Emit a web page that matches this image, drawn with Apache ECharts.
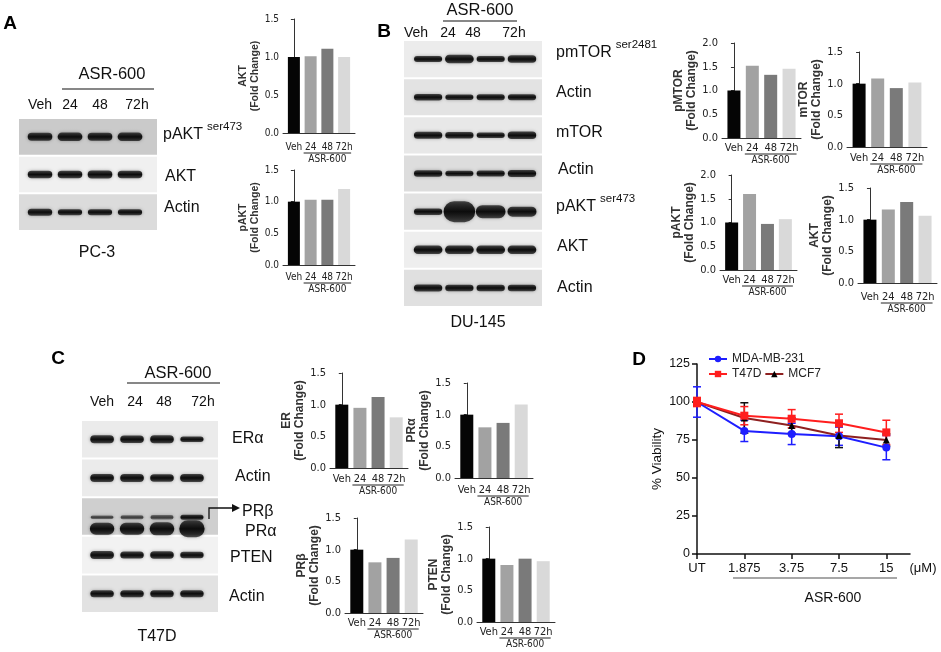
<!DOCTYPE html>
<html>
<head>
<meta charset="utf-8">
<title>ASR-600</title>
<script src="https://cdn.jsdelivr.net/npm/echarts@6.0.0/dist/echarts.min.js"></script>
<style>
  html, body { margin: 0; padding: 0; background: #fff; }
  #main { width: 941px; height: 652px; }
</style>
</head>
<body>
<div id="main"></div>
<script>
'use strict';

// ---------------- data ----------------
var lanes = ['Veh', '24', '48', '72h'];
var foldTicks = [0, 0.5, 1.0, 1.5, 2.0];

// densitometry, fold change vs vehicle
var foldAktA   = [1.0, 1.01, 1.11, 1.0];
var foldPaktA  = [1.0, 1.03, 1.03, 1.2];
var foldPmtorB = [1.0, 1.52, 1.33, 1.46];
var foldMtorB  = [1.0, 1.08, 0.93, 1.02];
var foldPaktB  = [1.0, 1.60, 0.97, 1.07];
var foldAktB   = [1.0, 1.16, 1.28, 1.06];
var foldErC    = [1.0, 0.95, 1.12, 0.80];
var foldPraC   = [1.0, 0.80, 0.87, 1.16];
var foldPrbC   = [1.0, 0.80, 0.87, 1.16];
var foldPtenC  = [1.0, 0.90, 1.00, 0.96];

// viability (%), mean and error
var doses = ['UT', '1.875', '3.75', '7.5', '15'];
var viabTicks = [0, 25, 50, 75, 100, 125];
var mdaMean = [100, 81, 79, 77.5, 70];
var mdaErr  = [10, 7, 7, 6, 8];
var t47Mean = [100, 91, 89, 86, 80];
var t47Err  = [3, 6, 6, 6, 8];
var mcfMean = [100, 89.5, 84.5, 78, 75];
var mcfErr  = [2, 10, 5, 8, 4];

// western blot band strength per lane (relative)
var blotPaktA  = [0.80, 0.85, 0.80, 0.85];
var blotAktA   = [0.75, 0.75, 0.80, 0.75];
var blotActA   = [0.70, 0.60, 0.60, 0.60];
var blotPmtorB = [0.60, 0.85, 0.60, 0.75];
var blotAct1B  = [0.65, 0.55, 0.60, 0.60];
var blotMtorB  = [0.70, 0.65, 0.55, 0.75];
var blotAct2B  = [0.65, 0.55, 0.60, 0.70];
var blotPaktB  = [0.65, 2.10, 1.30, 1.00];
var blotAktB   = [0.85, 0.85, 0.85, 0.85];
var blotAct3B  = [0.70, 0.65, 0.65, 0.65];
var blotErC    = [0.80, 0.75, 0.80, 0.55];
var blotActC   = [0.80, 0.80, 0.75, 0.80];
var blotPrbC   = [0.35, 0.40, 0.45, 0.50];
var blotPraC   = [1.20, 1.20, 1.30, 1.70];
var blotPtenC  = [0.80, 0.70, 0.75, 0.65];
var blotAct2C  = [0.70, 0.70, 0.70, 0.70];

// ---------------- fonts ----------------
var SANS = "'Liberation Sans', Arial, sans-serif";

// use a condensed face for the small GraphPad-style plots if one is installed
function pickNarrow() {
  var c = document.createElement('canvas').getContext('2d');
  var probe = 'Veh 24 48 72h ASR-600 0.5 1.0';
  var cands = ['Liberation Sans Narrow', 'Arial Narrow', 'DejaVu Sans Condensed', 'Roboto Condensed', 'Open Sans Condensed'];
  c.font = '40px monospace';
  var base = c.measureText(probe).width;
  for (var i = 0; i < cands.length; i++) {
    c.font = "40px '" + cands[i] + "', monospace";
    if (Math.abs(c.measureText(probe).width - base) > 0.5) return "'" + cands[i] + "', " + SANS;
  }
  return null;
}
var NARROW_FOUND = pickNarrow();
var NARROW = NARROW_FOUND || SANS;
var narrowScale = NARROW_FOUND ? 1 : 0.92;

// ---------------- layout / style ----------------
var barColors = ['#050505', '#a2a2a2', '#7a7a7a', '#d9d9d9'];

var barCharts = [
  {vals: foldAktA,   name: 'AKT',  max: 1.5, left: 283, top: 19,  height: 114, width: 72, barW: 12, gap: 21, nameSize: 10.5, tick: 10, labOff: 14},
  {vals: foldPaktA,  name: 'pAKT', max: 1.5, left: 283, top: 170, height: 95,  width: 72, barW: 12, gap: 21, nameSize: 10.5, tick: 10, labOff: 12},
  {vals: foldPmtorB, name: 'pMTOR', max: 2.0, left: 722, top: 43, height: 95,  width: 79, barW: 13, gap: 18, nameSize: 12, tick: 11, labOff: 10},
  {vals: foldMtorB,  name: 'mTOR', max: 1.5, left: 847, top: 52,  height: 95,  width: 80, barW: 13, gap: 16, nameSize: 12, tick: 11, labOff: 11},
  {vals: foldPaktB,  name: 'pAKT', max: 2.0, left: 720, top: 175, height: 95,  width: 77, barW: 13, gap: 18, nameSize: 12, tick: 11, labOff: 10},
  {vals: foldAktB,   name: 'AKT',  max: 1.5, left: 858, top: 188, height: 95,  width: 79, barW: 13, gap: 18, nameSize: 12, tick: 11, labOff: 14},
  {vals: foldErC,    name: 'ER',   max: 1.5, left: 330, top: 373, height: 95,  width: 78, barW: 13, gap: 21, nameSize: 12, tick: 11, labOff: 11},
  {vals: foldPraC,   name: 'PRα',  max: 1.5, left: 455, top: 383, height: 95,  width: 78, barW: 13, gap: 21, nameSize: 12, tick: 11, labOff: 12},
  {vals: foldPrbC,   name: 'PRβ',  max: 1.5, left: 345, top: 518, height: 95,  width: 78, barW: 13, gap: 21, nameSize: 12, tick: 11, labOff: 10},
  {vals: foldPtenC,  name: 'PTEN', max: 1.5, left: 477, top: 527, height: 95,  width: 78, barW: 13, gap: 21, nameSize: 12, tick: 11, labOff: 10}
];

var blots = [
  {left: 19, top: 118, width: 138, height: 113, xMin: -0.7, xMax: 3.9, bandW: 25,
   rows: [blotPaktA, blotAktA, blotActA], shades: ['#cacaca', '#f0f0f0', '#dbdbdb']},
  {left: 404, top: 40, width: 138, height: 267, xMin: -0.77, xMax: 3.64, bandW: 29,
   rows: [blotPmtorB, blotAct1B, blotMtorB, blotAct2B, blotPaktB, blotAktB, blotAct3B],
   shades: ['#ececec', '#e3e3e3', '#e8e8e8', '#dddddd', '#e2e2e2', '#eeeeee', '#e0e0e0']},
  {left: 82, top: 420, width: 136, height: 193, xMin: -0.67, xMax: 3.87, bandW: 24,
   rows: [blotErC, blotActC, [blotPrbC, blotPraC], blotPtenC, blotAct2C],
   shift: [[], [], [0.02, 0.32], [], []],
   shades: ['#ebebeb', '#ebebeb', '#cfcfcf', '#f2f2f2', '#e2e2e2']}
];

// ---------------- build option ----------------
var grids = [], xAxes = [], yAxes = [], series = [];

barCharts.forEach(function (c, k) {
  var fs = Math.round(c.tick * narrowScale * 10) / 10;
  grids.push({left: c.left, top: c.top, width: c.width, height: c.height, outerBoundsMode: 'none'});
  xAxes.push({
    gridIndex: k, type: 'value', min: -0.65, max: 3.65,
    axisLine: {show: true, onZero: false, lineStyle: {color: '#333', width: 1}},
    axisTick: {show: false}, splitLine: {show: false},
    axisLabel: {customValues: [0, 1, 2, 3], formatter: function (v) { return lanes[v]; },
      fontFamily: NARROW, fontSize: fs, color: '#222', margin: c.labOff - 5}
  });
  yAxes.push({
    gridIndex: k, type: 'value', min: 0, max: c.max, interval: 0.5,
    name: c.name + '\n(Fold Change)', nameLocation: 'middle', nameRotate: 90, nameGap: c.gap,
    nameTextStyle: {fontFamily: SANS, fontSize: c.nameSize, fontWeight: 'bold', color: '#333', lineHeight: c.nameSize + 1},
    axisLine: {show: true, lineStyle: {color: '#333', width: 1}},
    axisTick: {show: true, length: 3, lineStyle: {color: '#333'}},
    splitLine: {show: false},
    axisLabel: {customValues: foldTicks.filter(function (t) { return t <= c.max; }),
      formatter: function (v) { return v.toFixed(1); },
      fontFamily: NARROW, fontSize: fs, color: '#222', margin: 4}
  });
  series.push({
    type: 'bar', xAxisIndex: k, yAxisIndex: k, barWidth: c.barW, silent: true,
    data: c.vals.map(function (v, i) { return {value: [i, v], itemStyle: {color: barColors[i]}}; })
  });
});

function rowBgRender(shades) {
  return function (params, api) {
    var row = api.value(1);
    var c = api.coord([0, row]);
    var h = api.size([0, 1])[1];
    var cs = params.coordSys;
    return {type: 'rect', shape: {x: cs.x, y: c[1] - h / 2 + 1, width: cs.width, height: h - 2},
      style: {fill: shades[row]}};
  };
}

function bandRender(bandW) {
  return function (params, api) {
    var v = api.value(2);
    var c = api.coord([api.value(0), api.value(1) + api.value(3)]);
    var h = v * 10;
    var w = bandW * (0.92 + 0.08 * v);
    var core = v < 0.5 ? '#3c3c3c' : '#0c0c0c';
    var edge = v < 0.5 ? 'rgba(60,60,60,0.55)' : 'rgba(20,20,20,0.7)';
    return {type: 'rect', shape: {x: c[0] - w / 2, y: c[1] - h / 2, width: w, height: h, r: h / 2},
      style: {
        fill: new echarts.graphic.LinearGradient(0, 0, 0, 1, [
          {offset: 0, color: edge}, {offset: 0.5, color: core}, {offset: 1, color: edge}]),
        shadowBlur: 3.5, shadowColor: 'rgba(0,0,0,0.45)'
      }};
  };
}

blots.forEach(function (b) {
  var gi = grids.length;
  grids.push({left: b.left, top: b.top, width: b.width, height: b.height, outerBoundsMode: 'none'});
  xAxes.push({gridIndex: gi, type: 'value', min: b.xMin, max: b.xMax, show: false});
  yAxes.push({gridIndex: gi, type: 'value', min: -0.5, max: b.rows.length - 0.5, inverse: true, show: false});
  series.push({type: 'custom', xAxisIndex: gi, yAxisIndex: gi, silent: true,
    renderItem: rowBgRender(b.shades), data: b.rows.map(function (r, i) { return [0, i]; })});
  var items = [];
  b.rows.forEach(function (r, ri) {
    var sets = Array.isArray(r[0]) ? r : [r];
    sets.forEach(function (vals, si) {
      var sh = (b.shift && b.shift[ri].length) ? b.shift[ri][si] : 0;
      vals.forEach(function (v, li) { items.push([li, ri, v, sh]); });
    });
  });
  series.push({type: 'custom', xAxisIndex: gi, yAxisIndex: gi, silent: true,
    renderItem: bandRender(b.bandW), data: items});
});

// viability panel
var vg = grids.length;
grids.push({left: 697, top: 364, width: 213, height: 190, outerBoundsMode: 'none'});
xAxes.push({
  gridIndex: vg, type: 'value', min: 0, max: 4.5,
  axisLine: {show: true, onZero: false, lineStyle: {color: '#111', width: 1.5}},
  axisTick: {show: true, customValues: [0, 1, 2, 3, 4], length: 5, lineStyle: {color: '#111', width: 1.5}},
  axisLabel: {customValues: [0, 1, 2, 3, 4], formatter: function (v) { return doses[v]; },
    fontFamily: SANS, fontSize: 13, color: '#111', margin: 8},
  splitLine: {show: false}
});
yAxes.push({
  gridIndex: vg, type: 'value', min: 0, max: 125, interval: 25,
  name: '% Viability', nameLocation: 'middle', nameRotate: 90, nameGap: 33,
  nameTextStyle: {fontFamily: SANS, fontSize: 13.5, color: '#111'},
  axisLine: {show: true, lineStyle: {color: '#111', width: 1.5}},
  axisTick: {show: true, length: 5, lineStyle: {color: '#111', width: 1.5}},
  axisLabel: {customValues: viabTicks, fontFamily: SANS, fontSize: 12.5, color: '#111', margin: 7},
  splitLine: {show: false}
});

function pairs(arr) { return arr.map(function (v, i) { return [i, v]; }); }
function errItems(means, errs) { return means.map(function (m, i) { return [i, m, errs[i]]; }); }
function errRender(color) {
  return function (params, api) {
    var i = api.value(0), m = api.value(1), e = api.value(2);
    var lo = api.coord([i, m - e]), hi = api.coord([i, m + e]);
    var cap = 4, st = {stroke: color, lineWidth: 1.5};
    return {type: 'group', children: [
      {type: 'line', shape: {x1: lo[0], y1: lo[1], x2: hi[0], y2: hi[1]}, style: st},
      {type: 'line', shape: {x1: lo[0] - cap, y1: lo[1], x2: lo[0] + cap, y2: lo[1]}, style: st},
      {type: 'line', shape: {x1: hi[0] - cap, y1: hi[1], x2: hi[0] + cap, y2: hi[1]}, style: st}
    ]};
  };
}

var blue = '#1e1eff', red = '#ff1e1e', brown = '#8e2020';
series.push(
  {type: 'custom', xAxisIndex: vg, yAxisIndex: vg, silent: true, renderItem: errRender(blue), data: errItems(mdaMean, mdaErr), z: 3},
  {type: 'custom', xAxisIndex: vg, yAxisIndex: vg, silent: true, renderItem: errRender('#111'), data: errItems(mcfMean, mcfErr), z: 3},
  {type: 'custom', xAxisIndex: vg, yAxisIndex: vg, silent: true, renderItem: errRender(red), data: errItems(t47Mean, t47Err), z: 3},
  {name: 'MDA-MB-231', type: 'line', xAxisIndex: vg, yAxisIndex: vg, data: pairs(mdaMean),
    symbol: 'circle', symbolSize: 8, lineStyle: {color: blue, width: 2}, itemStyle: {color: blue}, z: 4},
  {name: 'MCF7', type: 'line', xAxisIndex: vg, yAxisIndex: vg, data: pairs(mcfMean),
    symbol: 'triangle', symbolSize: 7, lineStyle: {color: brown, width: 2}, itemStyle: {color: '#000'}, z: 4},
  {name: 'T47D', type: 'line', xAxisIndex: vg, yAxisIndex: vg, data: pairs(t47Mean),
    symbol: 'rect', symbolSize: 8, lineStyle: {color: red, width: 2}, itemStyle: {color: red}, z: 5}
);

var legendText = {fontFamily: SANS, fontSize: 12, color: '#222'};

var chart = echarts.init(document.getElementById('main'));
chart.setOption({
  animation: false,
  backgroundColor: '#fff',
  grid: grids, xAxis: xAxes, yAxis: yAxes, series: series,
  legend: [
    {data: ['MDA-MB-231'], left: 703, top: 348, itemWidth: 18, itemHeight: 8, itemGap: 6, textStyle: legendText, selectedMode: false},
    {data: ['T47D', 'MCF7'], left: 703, top: 363, itemWidth: 18, itemHeight: 8, itemGap: 3, textStyle: legendText, selectedMode: false}
  ]
});

// ---------------- annotation text ----------------
var mctx = document.createElement('canvas').getContext('2d');
function textW(s, size) { mctx.font = size + 'px ' + SANS; return mctx.measureText(s).width; }

function txt(x, y, s, size, o) {
  o = o || {};
  return {type: 'text', x: x, y: y, silent: true, z: 100,
    style: {text: s, fontSize: size, fontFamily: o.family || SANS, fontWeight: o.weight || 'normal',
      fill: o.color || '#111', align: o.align || 'center', verticalAlign: 'middle'}};
}
function ln(x1, y1, x2, y2, color, w) {
  return {type: 'line', silent: true, z: 100, shape: {x1: x1, y1: y1, x2: x2, y2: y2},
    style: {stroke: color || '#111', lineWidth: w || 1.2}};
}
function protein(x, y, main, sup) {
  var out = [txt(x, y, main, 16, {align: 'left'})];
  if (sup) out.push(txt(x + textW(main, 16) + 4, y - 8, sup, 11.5, {align: 'left'}));
  return out;
}

var g = [];
// panel letters
g.push(txt(10, 24, 'A', 19, {weight: 'bold', color: '#000'}));
g.push(txt(384, 32, 'B', 19, {weight: 'bold', color: '#000'}));
g.push(txt(58, 359, 'C', 19, {weight: 'bold', color: '#000'}));
g.push(txt(639, 360, 'D', 19, {weight: 'bold', color: '#000'}));

// A blot text
g.push(txt(112, 74, 'ASR-600', 16.5), ln(62, 89, 154, 89));
[40, 70, 100, 137].forEach(function (x, i) { g.push(txt(x, 105, lanes[i], 14)); });
g = g.concat(protein(163, 135, 'pAKT', 'ser473'), protein(165, 177, 'AKT'), protein(164, 208, 'Actin'));
g.push(txt(97, 253, 'PC-3', 16));

// B blot text
g.push(txt(480, 10, 'ASR-600', 16.5), ln(443, 21, 517, 21));
[416, 448, 473, 514].forEach(function (x, i) { g.push(txt(x, 33, lanes[i], 14)); });
g = g.concat(
  protein(556, 53, 'pmTOR', 'ser2481'), protein(556, 93, 'Actin'), protein(556, 133, 'mTOR'),
  protein(558, 170, 'Actin'), protein(556, 207, 'pAKT', 'ser473'), protein(557, 247, 'AKT'),
  protein(557, 288, 'Actin'));
g.push(txt(478, 323, 'DU-145', 16));

// C blot text
g.push(txt(178, 373, 'ASR-600', 16.5), ln(127, 383, 220, 383));
[102, 135, 164, 203].forEach(function (x, i) { g.push(txt(x, 402, lanes[i], 14)); });
g = g.concat(
  protein(232, 439, 'ERα'), protein(235, 477, 'Actin'), protein(242, 512, 'PRβ'),
  protein(245, 532, 'PRα'), protein(230, 558, 'PTEN'), protein(229, 597, 'Actin'));
g.push({type: 'polyline', silent: true, z: 100, shape: {points: [[209, 519], [209, 508], [233, 508]]},
  style: {stroke: '#111', lineWidth: 1.3, fill: null}});
g.push({type: 'polygon', silent: true, z: 100, shape: {points: [[232, 504], [240, 508], [232, 512]]},
  style: {fill: '#111'}});
g.push(txt(157, 637, 'T47D', 16));

// under-axis ASR-600 brackets of the bar plots
barCharts.forEach(function (c, k) {
  var x1 = chart.convertToPixel({xAxisIndex: k}, 1) - c.barW / 2 - 1;
  var x2 = chart.convertToPixel({xAxisIndex: k}, 3) + c.barW / 2 + 1;
  var y0 = chart.convertToPixel({yAxisIndex: k}, 0);
  g.push(ln(x1, y0 + c.labOff + 6, x2, y0 + c.labOff + 6, '#222', 1));
  g.push(txt((x1 + x2) / 2, y0 + c.labOff + 12, 'ASR-600', Math.round(10 * narrowScale * 10) / 10,
    {family: NARROW, color: '#222'}));
});

// D extras
g.push(txt(923, 568, '(μM)', 13));
g.push(ln(733, 578, 897, 578, '#8a8a8a', 1.5));
g.push(txt(833, 598, 'ASR-600', 14));

chart.setOption({graphic: {elements: g}});
</script>
</body>
</html>
